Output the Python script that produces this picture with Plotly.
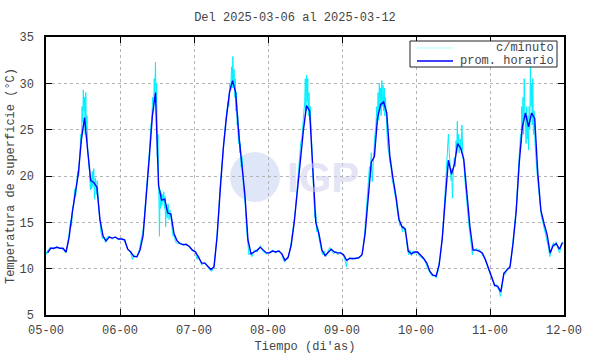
import numpy as np
import pandas as pd
import plotly.graph_objects as go

# ---------------- data ----------------
start = pd.Timestamp("2025-03-05 00:00")
end = pd.Timestamp("2025-03-12 00:00")

# hourly averages (centered at hh:30), 2025-03-05 .. 2025-03-11
hourly_vals = [
    # 05
    11.7, 12.2, 12.2, 12.3, 12.2, 12.2, 11.8, 13.4, 16.0, 18.3, 20.3, 24.0,
    26.3, 22.8, 19.5, 19.3, 18.8, 15.3, 13.5, 13.0, 13.4, 13.3, 13.4, 13.2,
    # 06
    13.2, 13.1, 12.1, 11.8, 11.3, 11.3, 12.0, 13.6, 17.5, 22.0, 26.5, 29.0,
    19.0, 17.4, 17.5, 16.0, 15.9, 13.8, 13.0, 12.7, 12.6, 12.6, 12.4, 12.0,
    # 07
    11.8, 11.2, 10.6, 10.6, 10.3, 9.9, 10.2, 13.5, 18.5, 23.0, 26.3, 29.0,
    30.3, 29.0, 24.6, 21.3, 18.0, 13.1, 11.6, 11.8, 12.0, 12.3, 12.0, 11.7,
    # 08
    11.7, 11.9, 11.8, 11.9, 11.6, 10.9, 11.2, 12.5, 15.0, 18.5, 22.0, 25.0,
    27.6, 27.0, 21.0, 15.0, 13.8, 12.0, 11.4, 11.7, 12.1, 11.8, 11.7, 11.7,
    # 09
    11.5, 10.9, 11.1, 11.1, 11.1, 11.2, 11.5, 13.8, 18.0, 21.5, 22.1, 26.2,
    27.7, 28.0, 26.8, 22.2, 19.8, 17.8, 15.3, 14.5, 14.3, 11.9, 11.6, 11.8,
    # 10
    11.8, 11.5, 11.1, 10.6, 9.7, 9.3, 9.2, 10.4, 13.2, 17.5, 21.7, 20.2,
    21.3, 23.5, 23.0, 21.8, 18.0, 14.5, 12.0, 12.0, 11.9, 11.7, 11.0, 10.1,
    # 11
    9.1, 8.2, 8.1, 7.5, 9.5, 9.8, 10.2, 12.8, 16.2, 21.5, 25.3, 26.8,
    25.3, 26.8, 26.2, 20.3, 16.3, 14.9, 13.7, 11.7, 12.5, 12.7, 12.1, 12.8,
]
hourly_offset_h = 0.5

# per-minute series (read as samples, hours since 2025-03-05 00:00)
cyan_hours = [
    0.0, 0.5, 1.5, 2.5, 3.5, 4.5, 5.5, 6.5, 7.0, 7.5, 8.0, 8.3, 8.6, 9.0, 9.3, 9.6, 10.0, 10.3, 10.6, 11.0,
    11.3, 11.5, 11.7, 11.9, 12.1, 12.3, 12.5, 12.7, 12.9, 13.1, 13.3, 13.5, 13.8, 14.1, 14.4, 14.6, 14.8,
    15.0, 15.2, 15.5, 15.7, 16.0, 16.3, 16.6, 17.0, 17.4, 17.8, 18.3, 18.8, 19.3, 19.8, 20.5, 21.5, 22.5, 23.5,
    24.5, 25.5, 26.5, 27.3, 28.0, 28.5, 29.5, 30.3, 31.0, 31.5, 32.0, 32.5, 33.0, 33.3, 33.6, 34.0, 34.3,
    34.6, 34.9, 35.1, 35.3, 35.5, 35.7, 35.9, 36.1, 36.3, 36.5, 36.6, 36.8, 37.0, 37.2, 37.4, 37.6, 37.8,
    38.0, 38.2, 38.4, 38.6, 38.8, 39.0, 39.3, 39.6, 39.9, 40.2, 40.5, 40.8, 41.2, 41.6, 42.0, 42.5, 43.5,
    44.5, 45.5, 46.5, 47.5,
    48.3, 49.0, 49.5, 50.5, 51.5, 52.3, 53.0, 53.8, 54.5, 55.0, 55.5, 56.0, 56.5, 57.0, 57.3, 57.6, 58.0,
    58.3, 58.6, 59.0, 59.3, 59.6, 59.9, 60.2, 60.4, 60.6, 60.8, 61.0, 61.2, 61.4, 61.6, 61.8, 62.0, 62.2,
    62.4, 62.6, 62.8, 63.0, 63.3, 63.6, 64.0, 64.3, 64.6, 65.0, 65.4, 65.8, 66.3, 66.8, 67.5, 68.5, 69.5,
    70.5, 71.5,
    72.5, 73.5, 74.5, 75.5, 76.5, 77.3, 78.0, 78.7, 79.3, 79.8, 80.3, 80.8, 81.3, 81.8, 82.2, 82.6, 83.0,
    83.3, 83.6, 83.9, 84.1, 84.3, 84.5, 84.7, 84.9, 85.1, 85.3, 85.5, 85.7, 86.0, 86.3, 86.6, 86.9, 87.2,
    87.5, 87.8, 88.1, 88.4, 88.8, 89.2, 89.7, 90.2, 90.7, 91.3, 92.0, 92.5, 93.3, 94.0, 94.7, 95.5,
    96.3, 97.0, 97.4, 97.8, 98.5, 99.5, 100.5, 101.5, 102.3, 102.8, 103.3, 103.7, 104.0, 104.3, 104.6,
    104.9, 105.2, 105.5, 105.8, 106.1, 106.4, 106.7, 107.0, 107.3, 107.5, 107.7, 107.9, 108.1, 108.3,
    108.5, 108.7, 108.9, 109.1, 109.3, 109.5, 109.7, 109.9, 110.1, 110.3, 110.6, 110.9, 111.2, 111.5,
    111.9, 112.3, 112.7, 113.1, 113.5, 114.0, 114.4, 114.8, 115.2, 115.6, 116.0, 116.4, 116.8, 117.2,
    117.6, 118.0, 118.5, 119.0, 119.5,
    120.3, 121.0, 121.7, 122.5, 123.2, 123.8, 124.5, 125.2, 126.0, 126.6, 127.2, 127.7, 128.2, 128.7,
    129.0, 129.3, 129.6, 129.9, 130.2, 130.5, 130.8, 131.1, 131.4, 131.6, 131.8, 132.1, 132.4, 132.7,
    133.0, 133.2, 133.4, 133.6, 133.8, 134.0, 134.3, 134.6, 134.9, 135.2, 135.5, 135.8, 136.1, 136.4,
    136.8, 137.2, 137.6, 138.0, 138.3, 138.6, 139.0, 139.5, 140.0, 140.5, 141.0, 141.5, 142.0, 142.5,
    143.0, 143.5,
    144.0, 144.5, 145.0, 145.5, 146.0, 146.5, 147.0, 147.4, 147.8, 148.2, 148.6, 149.0, 149.5, 150.0,
    150.5, 151.0, 151.5, 152.0, 152.5, 153.0, 153.3, 153.6, 153.9, 154.1, 154.3, 154.5, 154.7, 154.9,
    155.1, 155.3, 155.5, 155.7, 155.9, 156.1, 156.3, 156.5, 156.7, 156.9, 157.1, 157.3, 157.5, 157.7,
    157.9, 158.1, 158.3, 158.6, 158.9, 159.2, 159.5, 159.8, 160.1, 160.4, 160.7, 161.0, 161.4, 161.8,
    162.2, 162.6, 163.0, 163.4, 163.8, 164.2, 164.6, 165.0, 165.4, 165.8, 166.2, 166.6, 167.0, 167.5,
    168.0,
]
cyan_vals = [
    11.5, 12.0, 12.3, 12.1, 12.4, 12.2, 12.1, 11.7, 12.5, 13.6, 15.2, 14.6, 16.5, 17.0, 18.6, 17.8, 19.6, 20.5, 20.0, 22.0,
    24.5, 23.5, 27.5, 25.8, 29.3, 27.0, 28.5, 24.5, 29.0, 25.0, 26.5, 23.0, 22.0, 20.5, 18.5, 19.8, 18.6,
    20.5, 18.8, 20.8, 17.5, 19.8, 18.0, 19.5, 17.0, 15.0, 14.0, 13.2, 13.4, 12.8, 13.4, 13.5, 13.2, 13.5, 13.1,
    13.3, 13.0, 12.1, 11.9, 11.0, 11.5, 11.2, 12.1, 13.4, 14.2, 16.0, 18.0, 20.5, 21.8, 23.0, 25.5, 26.0,
    28.5, 27.0, 30.5, 29.0, 32.3, 28.0, 30.0, 22.0, 24.5, 17.5, 19.5, 13.5, 18.5, 16.5, 18.2, 16.8, 18.0,
    17.2, 18.3, 16.5, 17.8, 14.5, 16.8, 15.5, 17.0, 15.3, 16.3, 15.5, 14.8, 13.5, 13.6, 12.9, 12.7, 12.8,
    12.5, 12.7, 12.3, 11.9,
    11.9, 11.0, 11.4, 10.4, 10.7, 10.2, 9.9, 9.7, 10.3, 11.8, 13.6, 16.0, 18.8, 21.0, 22.3, 23.8, 24.5,
    26.0, 26.8, 28.0, 27.5, 30.0, 29.3, 31.8, 29.5, 32.9, 30.0, 31.5, 28.5, 30.5, 27.0, 29.0, 25.5, 26.5,
    23.5, 25.0, 22.5, 23.5, 21.0, 22.0, 19.0, 18.0, 17.0, 14.5, 12.8, 11.5, 11.8, 11.3, 12.0, 11.8, 12.5,
    11.8, 11.6,
    11.8, 12.0, 11.7, 12.0, 11.5, 10.7, 11.0, 11.4, 12.3, 13.5, 14.5, 16.0, 18.0, 20.5, 21.8, 23.5, 24.2,
    25.5, 26.5, 28.0, 30.5, 27.0, 30.9, 28.0, 30.5, 26.5, 29.0, 26.0, 27.5, 24.5, 22.5, 20.0, 17.5, 15.5,
    16.0, 14.0, 14.5, 13.5, 13.0, 12.2, 11.5, 11.9, 11.3, 11.8, 12.3, 12.0, 11.6, 11.9, 11.5, 11.8,
    11.6, 10.9, 10.2, 11.0, 11.2, 11.0, 11.2, 11.1, 11.4, 12.0, 13.5, 15.5, 17.0, 18.5, 19.5,
    21.0, 20.5, 22.5, 19.4, 22.0, 23.0, 24.5, 25.5, 27.5, 25.5, 29.0, 26.0, 30.0, 27.0,
    29.5, 26.5, 30.3, 27.5, 29.8, 27.0, 29.5, 26.5, 28.5, 26.0, 24.5, 23.0, 22.5, 21.5,
    21.0, 19.5, 19.0, 18.0, 17.5, 16.0, 15.0, 14.6, 14.8, 14.0, 14.6, 14.0, 13.5, 12.2,
    11.5, 12.0, 11.4, 11.9, 11.6,
    11.9, 11.4, 11.2, 11.0, 10.6, 10.0, 9.6, 9.2, 9.3, 9.0, 9.8, 11.0, 12.2, 14.0,
    15.8, 17.5, 19.5, 21.0, 22.0, 24.5, 22.5, 21.0, 19.5, 20.8, 17.6, 20.5, 22.0, 21.0,
    23.8, 22.5, 25.9, 23.0, 24.5, 22.5, 24.0, 22.8, 25.5, 22.0, 21.5, 19.8, 18.5, 18.0,
    16.0, 14.5, 13.5, 12.5, 11.5, 12.2, 12.0, 12.2, 11.9, 12.1, 11.7, 11.5, 11.2, 10.9,
    10.4, 10.0,
    9.6, 9.0, 8.6, 8.1, 8.3, 7.9, 7.6, 7.0, 7.8, 9.0, 9.6, 9.4, 10.0, 10.0,
    10.3, 11.5, 13.0, 14.5, 16.5, 19.5, 21.0, 22.8, 24.5, 23.5, 27.5, 25.0, 28.5, 24.5,
    30.5, 27.0, 26.0, 23.5, 27.5, 24.0, 26.5, 22.8, 27.5, 25.0, 31.8, 27.5, 30.0, 25.5,
    30.5, 24.5, 27.0, 23.5, 21.5, 20.5, 19.5, 18.5, 17.0, 16.0, 15.5, 15.2, 14.6, 14.2,
    13.5, 13.0, 12.2, 11.3, 12.0, 12.5, 12.8, 12.4, 12.9, 12.3, 12.0, 11.7, 12.5, 12.9,
    12.7,
]

y_ticks = [5, 10, 15, 20, 25, 30, 35]
title_text = "Del 2025-03-06 al 2025-03-12"
xlabel = "Tiempo (di'as)"
ylabel = "Temperatura de superficie (°C)"
legend_names = ["c/minuto", "prom. horario"]
series_colors = ["#00f0ff", "#0000ff"]

# ---------------- figure ----------------
hourly_t = start + pd.to_timedelta(np.arange(len(hourly_vals)) + hourly_offset_h, unit="h")
cyan_t = start + pd.to_timedelta(np.array(cyan_hours), unit="h")

FONT = "Liberation Mono, Courier New, monospace"
TXT = "#444444"

# plot-area geometry (pixels) used to place the hand-drawn legend / watermark
W, H = 590, 354
L, R, T, B = 46, 26, 37, 39
PW, PH = W - L - R, H - T - B


def px(x):
    return (x - L) / PW


def py(y):
    return (H - B - y) / PH


fig = go.Figure()
fig.add_trace(go.Scatter(x=cyan_t, y=cyan_vals, mode="lines", name=legend_names[0],
                         line=dict(color=series_colors[0], width=1), showlegend=False))
fig.add_trace(go.Scatter(x=hourly_t, y=hourly_vals, mode="lines", name=legend_names[1],
                         line=dict(color=series_colors[1], width=1.4), showlegend=False))

# faint IGP watermark
fig.add_shape(type="circle", xref="paper", yref="paper",
              x0=px(230), x1=px(280), y0=py(202), y1=py(152),
              fillcolor="#dfe6f7", line=dict(width=0), layer="below")
fig.add_annotation(text="<b>IGP</b>", xref="paper", yref="paper",
                   x=px(323), y=py(177), showarrow=False,
                   font=dict(family="Liberation Sans, Arial", size=42, color="rgba(205,205,238,0.55)"))

# legend box (drawn like gnuplot: sample on the left, right-aligned text)
fig.add_shape(type="rect", xref="paper", yref="paper",
              x0=px(410), x1=px(557), y0=py(67), y1=py(41),
              fillcolor="white", line=dict(color="#222", width=1), layer="above")
for i, (nm, col) in enumerate(zip(legend_names, series_colors)):
    yy = 48 + 13 * i
    fig.add_shape(type="line", xref="paper", yref="paper",
                  x0=px(417), x1=px(453), y0=py(yy), y1=py(yy),
                  line=dict(color=col if i else "#a8ffff", width=1.4 if i else 1), layer="above")
    fig.add_annotation(text=nm, xref="paper", yref="paper", x=px(556), y=py(yy),
                       xanchor="right", yanchor="middle", showarrow=False,
                       font=dict(family=FONT, size=12, color=TXT))

axis_common = dict(showline=True, linecolor="black", linewidth=1.5, mirror="ticks",
                   ticks="inside", ticklen=6, tickcolor="black", tickwidth=1.2,
                   showgrid=True, gridcolor="#b4b4b4", griddash="dot", gridwidth=1,
                   zeroline=False, tickfont=dict(family=FONT, size=12, color=TXT))

fig.update_xaxes(range=[start, end], tickformat="%d-%H", dtick=86400000, tick0=start,
                 ticklabelstandoff=3,
                 title=dict(text=xlabel, font=dict(family=FONT, size=12, color=TXT), standoff=4),
                 **axis_common)
fig.update_yaxes(range=[5, 35], tickvals=y_ticks, ticklabelstandoff=8,
                 title=dict(text=ylabel, font=dict(family=FONT, size=12, color=TXT), standoff=2),
                 **axis_common)

fig.update_layout(
    width=W, height=H,
    margin=dict(l=L, r=R, t=T, b=B, autoexpand=False),
    paper_bgcolor="white", plot_bgcolor="white",
    title=dict(text=title_text, x=0.5, xanchor="center", y=1 - 17 / H, yanchor="middle",
               font=dict(family=FONT, size=12, color=TXT)),
    showlegend=False,
)

fig.write_html("out.html")
